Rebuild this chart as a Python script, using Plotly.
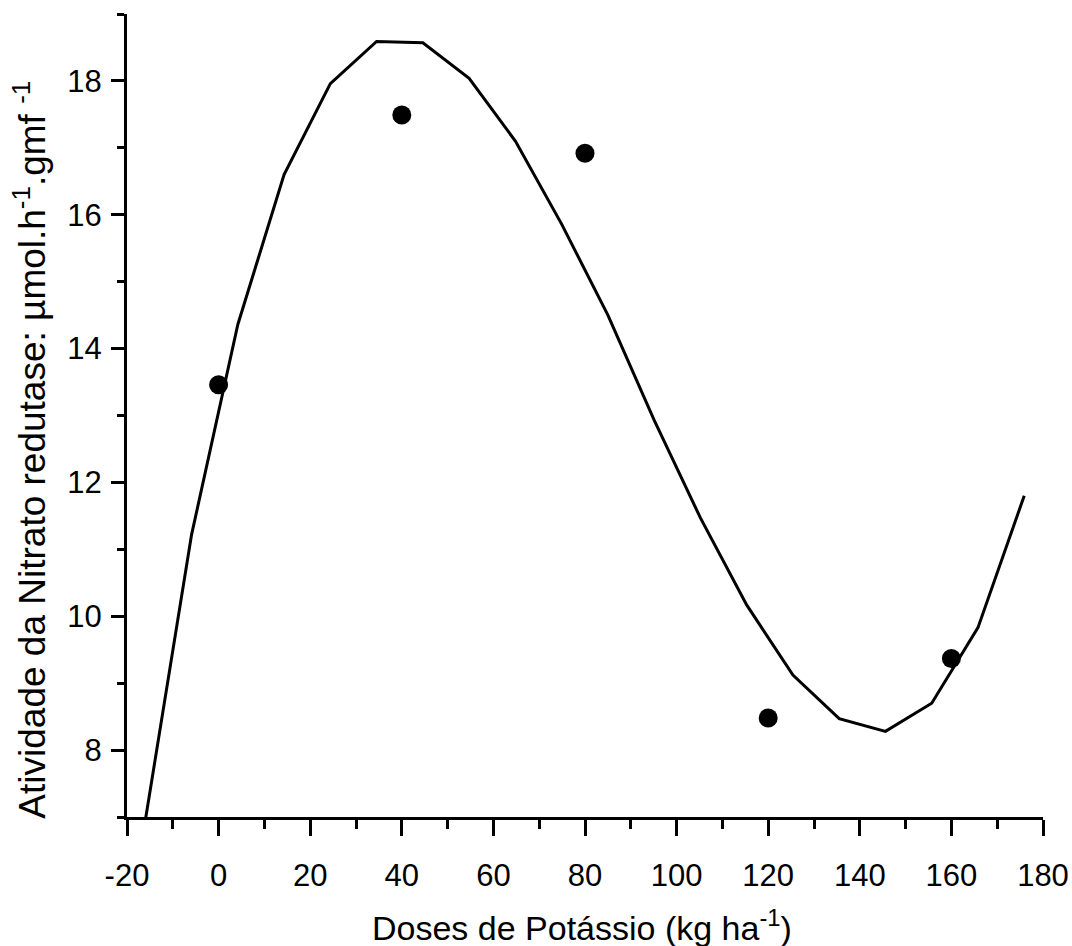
import plotly.graph_objects as go

# Observed data points
dose_obs = [0, 40, 80, 120, 160]
nr_obs = [13.46, 17.49, 16.92, 8.48, 9.37]

# Fitted curve (polyline vertices)
dose_fit = [-16.0, -5.9, 4.2, 14.3, 24.4, 34.5, 44.6, 54.7, 64.8, 74.9, 85.0,
            95.1, 105.2, 115.3, 125.4, 135.5, 145.6, 155.7, 165.8, 175.9]
nr_fit = [6.95, 11.22, 14.36, 16.60, 17.96, 18.59, 18.57, 18.04, 17.10, 15.86,
          14.50, 12.93, 11.47, 10.17, 9.12, 8.47, 8.28, 8.70, 9.83, 11.80]

x_ticks = [-20, 0, 20, 40, 60, 80, 100, 120, 140, 160, 180]
x_ticklabels = ["-20", "0", "20", "40", "60", "80", "100", "120", "140", "160", "180"]
y_ticks = [8, 10, 12, 14, 16, 18]
y_ticklabels = ["8", "10", "12", "14", "16", "18"]

x_title = "Doses de Potássio (kg ha<sup>-1</sup>)"
y_title = "Atividade da Nitrato redutase: µmol.h<sup>-1</sup>.gmf <sup>-1</sup>"

FONT = "Arial, Liberation Sans, Helvetica, sans-serif"

fig = go.Figure()
fig.add_trace(go.Scatter(x=dose_fit, y=nr_fit, mode="lines",
                         line=dict(color="black", width=3), showlegend=False))
fig.add_trace(go.Scatter(x=dose_obs, y=nr_obs, mode="markers",
                         marker=dict(color="black", size=19), showlegend=False))

axis_common = dict(
    showline=True, linecolor="black", linewidth=3,
    ticks="outside", tickcolor="black", tickwidth=3,
    showgrid=False, zeroline=False, mirror=False, automargin=False,
    tickfont=dict(family=FONT, size=31, color="black"),
)

fig.update_xaxes(
    range=[-20, 180], tickvals=x_ticks, ticktext=x_ticklabels, ticklen=16,
    minor=dict(dtick=10, tick0=0, ticks="outside", ticklen=9, tickwidth=3, tickcolor="black"),
    ticklabelstandoff=13,
    **axis_common,
)
fig.update_yaxes(
    range=[7, 19], tickvals=y_ticks, ticktext=y_ticklabels, ticklen=13,
    minor=dict(dtick=1, tick0=0, ticks="outside", ticklen=7, tickwidth=3, tickcolor="black"),
    ticklabelstandoff=3,
    **axis_common,
)

# Axis titles as annotations (placed in paper coordinates)
fig.add_annotation(
    text=x_title, showarrow=False,
    xref="paper", yref="paper", x=0.4967, y=-0.1345,
    xanchor="center", yanchor="middle",
    font=dict(family=FONT, size=34, color="black"),
)
fig.add_annotation(
    text=y_title, textangle=-90, showarrow=False,
    xref="paper", yref="paper", x=-0.1063, y=0.457,
    xanchor="center", yanchor="middle",
    font=dict(family=FONT, size=37, color="black"),
)

fig.update_layout(
    width=1072, height=946,
    margin=dict(l=127, r=29, t=14, b=129),
    paper_bgcolor="white", plot_bgcolor="white",
    showlegend=False,
)

fig.write_html(
    "out.html",
    config={"displayModeBar": False},
    post_script=(
        "document.body.style.margin='0px';"
        "document.body.style.overflow='hidden';"
        "document.documentElement.style.overflow='hidden';"
    ),
)
